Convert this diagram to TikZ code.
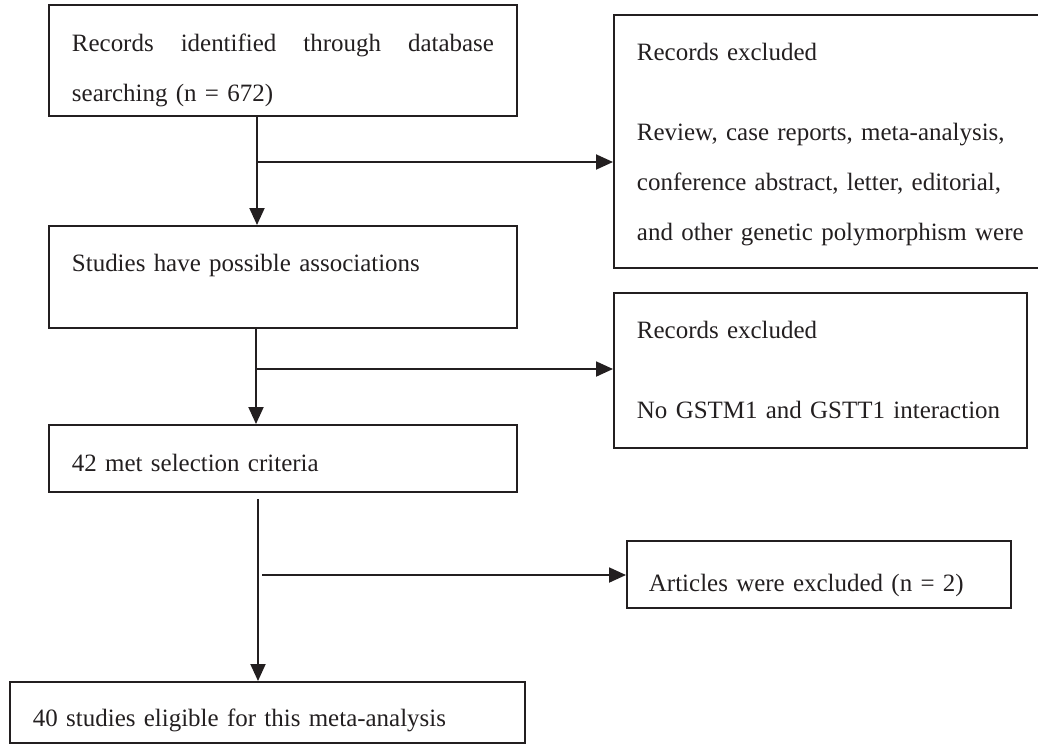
\documentclass[tikz,border=0pt]{standalone}
\usepackage{fontspec}
\setmainfont{Liberation Serif}
\usepackage{tikz}
\usetikzlibrary{positioning,arrows.meta}
\definecolor{InkDark}{HTML}{231F20}
\newcommand{\fullline}[2]{\makebox[#1][s]{#2}}
\tikzset{
  flowbox/.style={
    draw=InkDark,line width=1.1pt,anchor=north west,
    inner xsep=0.46cm,inner ysep=0pt,align=left,
    font=\fontsize{14.2}{28.45}\selectfont\color{InkDark}
  },
  flowarrow/.style={
    draw=InkDark,line width=1.1pt,-{Triangle[length=0.34cm,width=0.30cm]}
  },
}

\begin{document}
\begin{tikzpicture}
  \useasboundingbox (0,0) rectangle (20.76,-14.88);
  \clip (0,0) rectangle (20.76,-14.88);
  % main column
  \node[flowbox,text width=8.44cm,text height=0.94cm,text depth=1.28cm] (search) at (0.96,-0.08) {Records\hfill identified\hfill through\hfill database\\searching (n = 672)};
  \node[flowbox,text width=8.44cm,text height=0.92cm,text depth=1.12cm] (assoc) at (0.96,-4.50) {Studies have possible associations};
  \node[flowbox,text width=8.44cm,text height=0.94cm,text depth=0.40cm] (crit) at (0.96,-8.48) {42 met selection criteria};
  \node[flowbox,text width=9.38cm,text height=0.90cm,text depth=0.32cm] (final) at (0.18,-13.62) {40 studies eligible for this meta-analysis};
  % exclusion boxes
  \node[flowbox,text width=7.84cm,text height=0.92cm,text depth=4.14cm] (excl1) at (12.26,-0.28) {Records excluded\\[0.6cm]\fullline{7.84cm}{Review, case reports, meta-analysis,}\\\fullline{7.84cm}{conference abstract, letter, editorial,}\\\fullline{7.84cm}{and other genetic polymorphism were}};
  \node[flowbox,text width=7.34cm,text height=0.92cm,text depth=2.18cm] (excl2) at (12.26,-5.84) {Records excluded\\[0.6cm]No GSTM1 and GSTT1 interaction};
  \node[flowbox,inner xsep=0.44cm,text width=6.80cm,text height=1.02cm,text depth=0.32cm] (excl3) at (12.52,-10.80) {Articles were excluded (n = 2)};
  % connectors
  \coordinate (j1) at (5.14,-3.24);
  \coordinate (j2) at (5.12,-7.38);
  \coordinate (j3) at (5.16,-11.50);
  \coordinate (v3) at (5.16,-9.98);
  \draw[flowarrow] (j1 |- search.south) -- (j1 |- assoc.north);
  \draw[flowarrow] (j1) -- (j1 -| excl1.west);
  \draw[flowarrow] (j2 |- assoc.south) -- (j2 |- crit.north);
  \draw[flowarrow] (j2) -- (j2 -| excl2.west);
  \draw[flowarrow] (v3) -- (v3 |- final.north);
  \draw[flowarrow] ([xshift=0.08cm]j3) -- (j3 -| excl3.west);
\end{tikzpicture}
\end{document}
